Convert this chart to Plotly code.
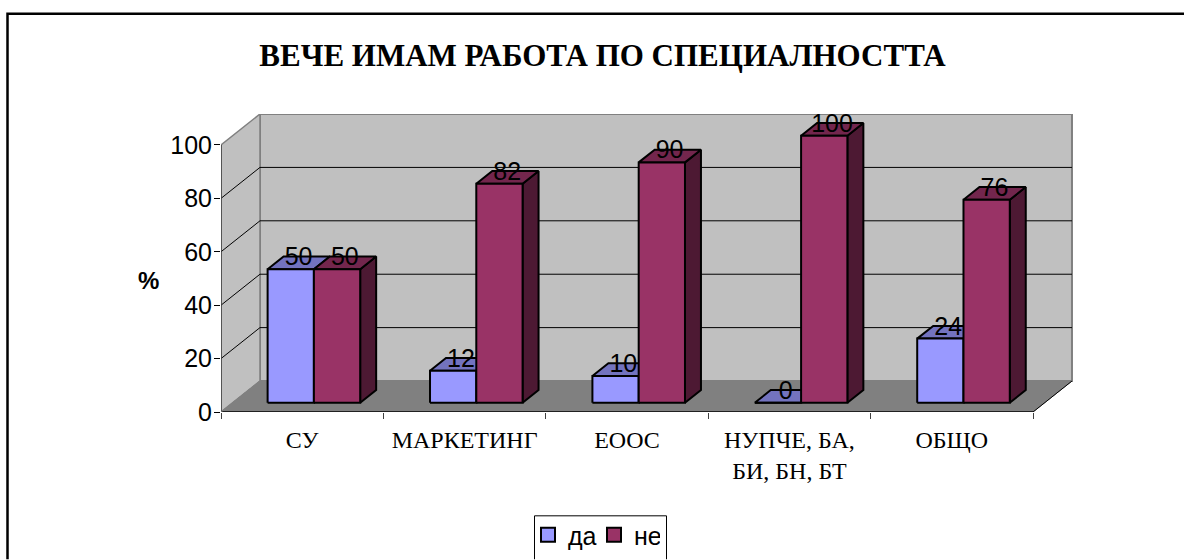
import plotly.graph_objects as go

# ── Data ──
categories = ["СУ", "МАРКЕТИНГ", "ЕООС", "НУПЧЕ, БА,<br>БИ, БН, БТ", "ОБЩО"]
da_values = [50, 12, 10, 0, 24]
ne_values = [50, 82, 90, 100, 76]
y_ticks = [0, 20, 40, 60, 80, 100]
series_names = ["да", "не"]
title_text = "ВЕЧЕ ИМАМ РАБОТА ПО СПЕЦИАЛНОСТТА"

W, H = 1184, 560
L, R, T, B = 221, 1073, 114, 412.5

# one x unit is one category, y unit is the value; depth goes up and to the right
DEPTH_X = 0.24
DEPTH_Y = 11.6
X_MAX = (R - L) / 162.4
Y_MAX = 111.6
BAR_GAP = 0.215
BAR_W = 0.285
BAR_D0 = 0.3
BAR_D1 = 0.71
LABEL_LIFT = 1.5

DA_COLORS = dict(front="#9999FF", top="#7373BF", side="#5C5C99")
NE_COLORS = dict(front="#993366", top="#73264D", side="#4D1933")


def pt(x, v, d=0.0):
    return x + d * DEPTH_X, v + d * DEPTH_Y


def poly(points):
    xs = [p[0] for p in points] + [points[0][0], None]
    ys = [p[1] for p in points] + [points[0][1], None]
    return xs, ys


def faces(values, slot):
    """Front, top and side outlines of one series."""
    out = {"front": ([], []), "top": ([], []), "side": ([], [])}
    for i, v in enumerate(values):
        x0 = i + BAR_GAP + slot * BAR_W
        x1 = x0 + BAR_W
        shapes = {
            "front": [pt(x0, 0, BAR_D0), pt(x1, 0, BAR_D0), pt(x1, v, BAR_D0), pt(x0, v, BAR_D0)],
            "top": [pt(x0, v, BAR_D0), pt(x1, v, BAR_D0), pt(x1, v, BAR_D1), pt(x0, v, BAR_D1)],
            "side": [pt(x1, 0, BAR_D0), pt(x1, 0, BAR_D1), pt(x1, v, BAR_D1), pt(x1, v, BAR_D0)],
        }
        for key, points in shapes.items():
            xs, ys = poly(points)
            out[key][0].extend(xs)
            out[key][1].extend(ys)
    return out


def add_poly(fig, xy, fill, line_color, width=1.0):
    fig.add_trace(go.Scatter(x=xy[0], y=xy[1], mode="lines", fill="toself", fillcolor=fill,
        line=dict(color=line_color, width=width), showlegend=False, hoverinfo="skip"))


def add_line(fig, a, b, color, width=1.0):
    fig.add_trace(go.Scatter(x=[a[0], b[0]], y=[a[1], b[1]], mode="lines",
        line=dict(color=color, width=width), showlegend=False, hoverinfo="skip"))


def paper_path(points):
    """Open path through page pixels, in paper coordinates."""
    parts = ["{} {} {}".format("M" if i == 0 else "L", (x - L) / (R - L), (B - y) / (B - T))
             for i, (x, y) in enumerate(points)]
    return " ".join(parts)


fig = go.Figure()

# ── Walls and floor ──
top = max(y_ticks)
add_poly(fig, poly([pt(0, 0, 1), pt(5, 0, 1), pt(5, top, 1), pt(0, top, 1)]), "#C0C0C0", "#808080", 2)
add_poly(fig, poly([pt(0, 0), pt(0, 0, 1), pt(0, top, 1), pt(0, top)]), "#C0C0C0", "#808080", 1.5)
add_poly(fig, poly([pt(0, 0), pt(5, 0), pt(5, 0, 1), pt(0, 0, 1)]), "#808080", "#808080", 1)

for t in y_ticks[1:-1]:
    add_line(fig, pt(0, t), pt(0, t, 1), "black", 1)
    add_line(fig, pt(0, t, 1), pt(5, t, 1), "black", 1)

add_line(fig, pt(0, 0), pt(0, top), "#404040", 1.5)
add_line(fig, pt(0, 0), pt(5, 0), "black", 1.5)
add_line(fig, pt(5, 0), pt(5, 0, 1), "black", 1)
add_line(fig, pt(0, 0), pt(0, 0, 1), "#808080", 1)

# ── Bars ──
for slot, (values, colors) in enumerate([(da_values, DA_COLORS), (ne_values, NE_COLORS)]):
    f = faces(values, slot)
    add_poly(fig, f["side"], colors["side"], "black", 2)
    add_poly(fig, f["top"], colors["top"], "black", 2)
    add_poly(fig, f["front"], colors["front"], "black", 2)

# ── Data labels, centred on the top of each bar ──
for slot, values in enumerate([da_values, ne_values]):
    xs, ys = [], []
    for i, v in enumerate(values):
        x, y = pt(i + BAR_GAP + (slot + 0.5) * BAR_W, v, 0.5)
        xs.append(x)
        ys.append(y + LABEL_LIFT)
    fig.add_trace(go.Scatter(x=xs, y=ys, mode="text", text=[str(v) for v in values],
        textposition="middle center",
        textfont=dict(family="Liberation Sans", size=25, color="black"),
        showlegend=False, hoverinfo="skip", cliponaxis=False))

# ── Legend swatches ──
for name, colors in zip(series_names, [DA_COLORS, NE_COLORS]):
    fig.add_trace(go.Scatter(x=[None], y=[None], mode="markers", name=name,
        marker=dict(symbol="square", size=14, color=colors["front"], line=dict(color="black", width=2))))

# outer frame, open at the right and bottom like the source crop
fig.add_shape(type="path", xref="paper", yref="paper", layer="below",
    path=paper_path([(7.5, H), (7.5, 13.5), (W, 13.5)]),
    line=dict(color="black", width=2.5))
# legend box, also cut by the bottom of the crop
fig.add_shape(type="path", xref="paper", yref="paper", layer="above",
    path=paper_path([(534.5, H), (534.5, 516.5), (666.5, 516.5), (666.5, H)]),
    line=dict(color="black", width=1))

fig.add_annotation(xref="paper", yref="paper", x=(148 - L) / (R - L), y=(B - 281) / (B - T),
    xanchor="center", yanchor="middle",
    text="<b>%</b>", showarrow=False,
    font=dict(family="Liberation Sans", size=24, color="black"))

fig.update_layout(
    width=W, height=H,
    paper_bgcolor="white", plot_bgcolor="white",
    margin=dict(l=L, r=W - R, t=T, b=H - B, pad=0),
    title=dict(text="<b>" + title_text + "</b>", x=602.5 / W, xanchor="center", xref="container",
        y=1 - 55 / H, yanchor="middle", yref="container",
        font=dict(family="Liberation Serif", size=31, color="black")),
    # container refs stop the legend from pushing the plot margins
    legend=dict(orientation="h", xref="container", yref="container",
        x=528 / W, xanchor="left", y=1 - 512 / H, yanchor="top",
        bgcolor="rgba(0,0,0,0)", borderwidth=0, entrywidth=21, entrywidthmode="pixels",
        font=dict(family="Liberation Sans", size=25, color="black")),
    xaxis=dict(range=[0, X_MAX], showgrid=False, zeroline=False, showline=False,
        tickmode="array", tickvals=[i + 0.5 for i in range(len(categories))], ticktext=categories,
        ticks="", ticklabelstandoff=11, tickfont=dict(family="Liberation Serif", size=24, color="black"),
        minor=dict(tickmode="array", tickvals=list(range(len(categories) + 1)), ticks="outside",
            ticklen=6, tickcolor="#404040", tickwidth=1, showgrid=False)),
    yaxis=dict(range=[0, Y_MAX], showgrid=False, zeroline=False, showline=False,
        tickmode="array", tickvals=y_ticks, ticks="outside", ticklen=6, tickcolor="black",
        ticklabelstandoff=-3,
        tickfont=dict(family="Liberation Sans", size=25, color="black")),
)

# the default body margin would push the fixed-size figure off the window
fig.write_html("out.html", config=dict(displayModeBar=False),
    post_script="document.body.style.margin='0';")
